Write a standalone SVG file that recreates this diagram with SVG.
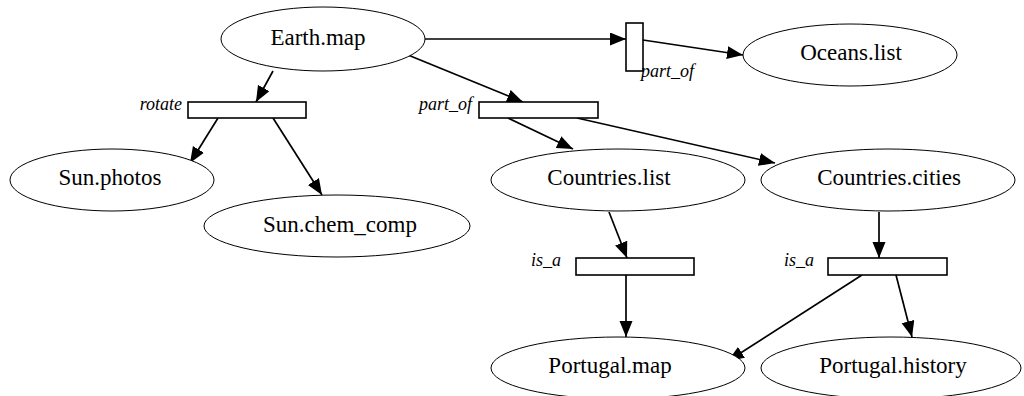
<svg xmlns="http://www.w3.org/2000/svg" width="1024" height="396" viewBox="0 0 1024 396">
  <style>
    .node ellipse { fill: #fff; stroke: #000; stroke-width: 1; }
    .node text { font-family: "Liberation Serif", "Times New Roman", serif; font-size: 23px; fill: #000; text-anchor: middle; }
    .bar rect { fill: #fff; stroke: #000; stroke-width: 1.6; }
    .bar text { font-family: "Liberation Serif", "Times New Roman", serif; font-style: italic; font-size: 18px; fill: #000; }
    .edges line { stroke: #000; stroke-width: 1.7; fill: none; marker-end: url(#arrow); }
  </style>
  <defs>
    <marker id="arrow" markerUnits="userSpaceOnUse" markerWidth="17" markerHeight="14" refX="16" refY="6.5" orient="auto">
      <path d="M0,0 L16,6.5 L0,13 Z" fill="#000"/>
    </marker>
  </defs>
  <rect width="1024" height="396" fill="#fff"/>

  <!-- connectors -->
  <g id="edges" class="edges">
    <line x1="273" y1="71" x2="256" y2="102"/>
    <line x1="408" y1="55" x2="523" y2="102"/>
    <line x1="425" y1="39" x2="626" y2="39"/>
    <line x1="643" y1="40" x2="743" y2="55"/>
    <line x1="218" y1="118" x2="190" y2="163"/>
    <line x1="273" y1="118" x2="322" y2="195"/>
    <line x1="508" y1="118" x2="573" y2="149"/>
    <line x1="577" y1="118" x2="775" y2="163"/>
    <line x1="609" y1="212" x2="627" y2="258"/>
    <line x1="879" y1="212" x2="879" y2="258"/>
    <line x1="626" y1="275" x2="626" y2="337"/>
    <line x1="862" y1="275" x2="728" y2="361"/>
    <line x1="896" y1="275" x2="912" y2="337"/>
  </g>

  <!-- relation bars -->
  <g id="rotate" class="bar">
    <rect x="188" y="102" width="118" height="16"/>
    <text x="182" y="110" text-anchor="end">rotate</text>
  </g>
  <g id="part_of_countries" class="bar">
    <rect x="479" y="102" width="119" height="16"/>
    <text x="472" y="110" text-anchor="end">part_of</text>
  </g>
  <g id="part_of_oceans" class="bar">
    <rect x="626" y="23" width="17" height="48"/>
    <text x="641" y="77">part_of</text>
  </g>
  <g id="is_a_list" class="bar">
    <rect x="576" y="258" width="118" height="17"/>
    <text x="561" y="266" text-anchor="end">is_a</text>
  </g>
  <g id="is_a_cities" class="bar">
    <rect x="828" y="258" width="119" height="17"/>
    <text x="814" y="266" text-anchor="end">is_a</text>
  </g>

  <!-- data nodes -->
  <g id="earth_map" class="node">
    <ellipse cx="323" cy="39" rx="102" ry="32"/>
    <text x="318" y="45">Earth.map</text>
  </g>
  <g id="oceans_list" class="node">
    <ellipse cx="850" cy="55" rx="107" ry="31"/>
    <text x="851" y="60">Oceans.list</text>
  </g>
  <g id="sun_photos" class="node">
    <ellipse cx="112" cy="180" rx="102" ry="31"/>
    <text x="110" y="185">Sun.photos</text>
  </g>
  <g id="sun_chem_comp" class="node">
    <ellipse cx="337" cy="226" rx="133" ry="31"/>
    <text x="340" y="232">Sun.chem_comp</text>
  </g>
  <g id="countries_list" class="node">
    <ellipse cx="618" cy="180" rx="127" ry="31"/>
    <text x="609" y="185">Countries.list</text>
  </g>
  <g id="countries_cities" class="node">
    <ellipse cx="888" cy="180" rx="127" ry="31"/>
    <text x="889" y="185">Countries.cities</text>
  </g>
  <g id="portugal_map" class="node">
    <ellipse cx="618" cy="368" rx="127" ry="31"/>
    <text x="610" y="373">Portugal.map</text>
  </g>
  <g id="portugal_history" class="node">
    <ellipse cx="891" cy="368" rx="130" ry="31"/>
    <text x="893" y="373">Portugal.history</text>
  </g>
</svg>
